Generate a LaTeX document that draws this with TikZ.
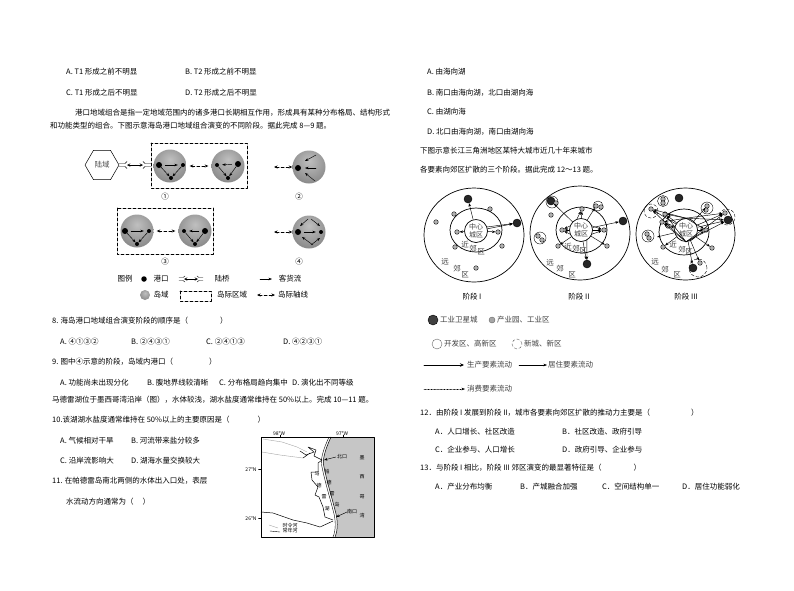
\documentclass[tikz,border=0pt]{standalone}
\usepackage{fontspec}
\setmainfont{Noto Sans CJK SC}
\usetikzlibrary{shapes.geometric,arrows.meta}
\pgfdeclareradialshading{islefill}{\pgfpoint{0bp}{10bp}}{color(0bp)=(black!25); color(25bp)=(black!42); color(50bp)=(black!62); color(70bp)=(black!75)}
\tikzset{
	txt/.style={anchor=west,inner sep=0pt,font=\fontsize{7.5}{9}\selectfont},
	mid/.style={inner sep=0pt,font=\fontsize{7.5}{9}\selectfont},
	mini/.style={inner sep=0pt,font=\fontsize{5}{6}\selectfont},
	isle/.style={circle,minimum size=33pt,inner sep=0pt,shading=islefill},
	bigport/.style={circle,fill=black,minimum size=6pt,inner sep=0pt},
	port/.style={circle,fill=black,minimum size=4pt,inner sep=0pt},
	boxdash/.style={draw,densely dashed,line width=.7pt},
	axis/.style={{Stealth[length=3.5pt,width=3pt]}-{Stealth[length=3.5pt,width=3pt]},densely dashed,line width=.6pt},
	flowline/.style={-{Stealth[length=3.5pt,width=2.6pt]},line width=.45pt},
	sat/.style={circle,fill=black!85,draw=black,minimum size=8pt,inner sep=0pt},
	park/.style={circle,fill=gray!60,draw=black,line width=.4pt,minimum size=4.6pt,inner sep=0pt},
	ring/.style={circle,draw,line width=.4pt,inner sep=0pt},
	newring/.style={circle,draw,densely dashed,line width=.4pt,inner sep=0pt},
	zone/.style={ellipse,draw,line width=.7pt,inner sep=0pt},
	core/.style={circle,draw,fill=white,line width=.7pt,minimum size=23pt,inner sep=0pt,align=center,font=\fontsize{7}{8}\selectfont,text=black!75}
}
\begin{document}
\begin{tikzpicture}[x=1pt,y=-1pt,>=stealth,line join=round,line cap=round]
	\useasboundingbox (0,0) rectangle (794,590);
	% left column
	\node[txt] (t1a) at (66,72) {A. T1 形成之前不明显};
	\node[txt] (t2a) at (185,72) {B. T2 形成之前不明显};
	\node[txt] (t1b) at (66,93) {C. T1 形成之后不明显};
	\node[txt] (t2b) at (185,93) {D. T2 形成之后不明显};
	\node[txt] (intro1) at (75,113) {港口地域组合是指一定地域范围内的诸多港口长期相互作用，形成具有某种分布格局、结构形式};
	\node[txt] (intro2) at (50,126) {和功能类型的组合。下图示意海岛港口地域组合演变的不同阶段。据此完成 8—9 题。};
	% islands
	\node[regular polygon,regular polygon sides=6,draw,minimum size=34pt,inner sep=0pt,line width=.5pt,font=\fontsize{7.5}{9}\selectfont,text=black!70] (land) at (102,165) {陆域};
	\draw[boxdash] (151,143) rectangle (247,188);
	\draw[boxdash] (117,208) rectangle (213,254);
	\node[isle] (isa) at (170,166) {};
	\node[isle] (isb) at (228,166) {};
	\node[isle] (isc) at (309,167) {};
	\node[isle] (isd) at (137,231) {};
	\node[isle] (ise) at (195,231) {};
	\node[isle] (isf) at (309,232) {};
	\foreach \n/\bx/\by/\sx/\sy/\dx/\dy in {a/159/165/183/165/171/178,b/238/164/217/165/228/178,d/125/231/149/231/137/244,e/205/231/184/231/195/244}{
		\node[bigport] (big\n) at (\bx,\by) {};
		\node[port] (sma\n) at (\sx,\sy) {};
		\node[port] (bot\n) at (\dx,\dy) {};
		\draw[flowline,shorten <=3pt,shorten >=3pt] (big\n) -- (sma\n);
		\draw[flowline] (big\n) -- (bot\n);
		\draw[flowline] (sma\n) -- (bot\n);
	}
	\node[bigport] (bigc) at (298,168) {};
	\node[bigport] (bigf) at (298,232) {};
	\node[port] (smaf) at (321,232) {};
	\coordinate (c1) at (316,155);
	\coordinate (c2) at (316,168);
	\coordinate (c3) at (315,181);
	\coordinate (c4) at (305,173);
	\coordinate (c5) at (305,161);
	\coordinate (c6) at (305,168);
	\draw[flowline] (c1) -- (c5);
	\draw[flowline] (c2) -- (c6);
	\draw[flowline] (c3) -- (c4);
	\coordinate (f1) at (308,219);
	\coordinate (f2) at (300,226);
	\coordinate (f3) at (311,219);
	\coordinate (f4) at (320,226);
	\coordinate (f5) at (313,245);
	\coordinate (f6) at (302,237);
	\coordinate (f7) at (311,245);
	\coordinate (f8) at (320,238);
	\draw[flowline] (f1) -- (f2);
	\draw[flowline] (f3) -- (f4);
	\draw[flowline] (f5) -- (f6);
	\draw[flowline] (f7) -- (f8);
	\draw[flowline,shorten <=3pt,shorten >=3pt] (bigf) -- (smaf);
	\draw[axis,shorten <=3pt,shorten >=3pt] (isa) -- (isb);
	\draw[axis,shorten <=3pt,shorten >=3pt] (isd) -- (ise);
	\coordinate (ax1) at (274,167);
	\coordinate (ax2) at (274,232);
	\draw[axis] (ax1) -- (isc);
	\draw[axis] (ax2) -- (isf);
	% land bridge
	\draw[<->,line width=.5pt] (127,165) -- (143,165);
	\draw[line width=.4pt] (119,163.5)--(125,163.5)--(127,161.5) (119,166.5)--(125,166.5)--(127,168.5) (151,163.5)--(145,163.5)--(143,161.5) (151,166.5)--(145,166.5)--(143,168.5);
	\node[mid] (no1) at (165,197) {①};
	\node[mid] (no2) at (299,197) {②};
	\node[mid] (no3) at (165,262) {③};
	\node[mid] (no4) at (299,262) {④};
	% legend
	\node[mid] (lg1) at (125,279) {图例};
	\node[circle,fill=black,minimum size=5.5pt,inner sep=0pt] (lgport) at (144,279) {};
	\node[mid] (lg2) at (161,279) {港口};
	\draw[<->,line width=.5pt] (184,279) -- (198,279);
	\draw[line width=.4pt] (179,277.5)--(183,277.5)--(185,276) (179,280.5)--(183,280.5)--(185,282) (203,277.5)--(199,277.5)--(197,276) (203,280.5)--(199,280.5)--(197,282);
	\node[mid] (lg3) at (222,279) {陆桥};
	\coordinate (lga) at (260,279);
	\coordinate (lgb) at (272,279);
	\draw[flowline] (lga) -- (lgb);
	\node[mid] (lg4) at (290,279) {客货流};
	\node[circle,minimum size=10pt,inner sep=0pt,shading=islefill] (lgisle) at (145,295) {};
	\node[mid] (lg5) at (161,295) {岛域};
	\draw[boxdash] (180,291) rectangle (211,301);
	\node[mid] (lg6) at (232,295) {岛际区域};
	\coordinate (lgc) at (257,295);
	\coordinate (lgd) at (275,295);
	\draw[axis] (lgc) -- (lgd);
	\node[mid] (lg7) at (293,295) {岛际轴线};
	% questions
	\node[txt] (q8) at (52,321) {8. 海岛港口地域组合演变阶段的顺序是（\hspace*{32pt}）};
	\node[txt] (q8a) at (60,342) {A. ④①③②};
	\node[txt] (q8b) at (131,342) {B. ②④③①};
	\node[txt] (q8c) at (206,342) {C. ②④①③};
	\node[txt] (q8d) at (283,342) {D. ④②③①};
	\node[txt] (q9) at (52,362) {9. 图中④示意的阶段，岛域内港口（\hspace*{36pt}）};
	\node[txt] (q9a) at (60,383) {A. 功能尚未出现分化};
	\node[txt] (q9b) at (147,383) {B. 腹地界线较清晰};
	\node[txt] (q9c) at (219,383) {C. 分布格局趋向集中};
	\node[txt] (q9d) at (292,383) {D. 演化出不同等级};
	\node[txt] (lake) at (52,400) {马德雷湖位于墨西哥湾沿岸（图），水体较浅，湖水盐度通常维持在 50\%以上。完成 10—11 题。};
	\node[txt] (q10) at (52,420) {10.该湖湖水盐度通常维持在 50\%以上的主要原因是（\hspace*{28pt}）};
	\node[txt] (q10a) at (60,441) {A. 气候相对干旱};
	\node[txt] (q10b) at (131,441) {B. 河流带来盐分较多};
	\node[txt] (q10c) at (60,461) {C. 沿岸流影响大};
	\node[txt] (q10d) at (131,461) {D. 湖海水量交换较大};
	\node[txt] (q11) at (52,481) {11. 在帕德雷岛南北两侧的水体出入口处，表层};
	\node[txt] (q11b) at (66,502) {水流动方向通常为（\hspace*{9pt}）};
	% map
	\fill[gray!45] (331,437) .. controls (325,450) and (322,460) .. (324,467) .. controls (327,482) and (332,498) .. (335,510) .. controls (338,520) and (338,530) .. (335,537) -- (374,537) -- (374,437) -- cycle;
	\draw[line width=.4pt] (329,437) .. controls (323,450) and (320,460) .. (322,467) .. controls (325,482) and (330,498) .. (333,510) .. controls (336,520) and (336,530) .. (333,537);
	\draw[line width=.5pt] (331,437) .. controls (325,450) and (322,460) .. (324,467) .. controls (327,482) and (332,498) .. (335,510) .. controls (338,520) and (338,530) .. (335,537);
	\draw[gray!70,line width=.4pt] (263,439)--(282,442)--(297,447)--(307,452) (262,452)--(280,455)--(303,458);
	\draw[line width=.5pt] (322,460)--(318,463)--(318,472)--(311,472)--(312,480)--(318,487)--(315,495)--(319,497)--(323,507)--(325,517)--(333,520);
	\draw[line width=.5pt] (300,451)--(306,455)--(314,452)--(308,447)--(316,450)--(314,456)--(322,460) (303,458)--(310,453);
	\draw[line width=.5pt] (261,512)--(273,513)--(293,520)--(307,523)--(320,527)--(333,521);
	\draw[gray!70,line width=.4pt] (269,525)--(278,528);
	\draw[line width=.4pt] (270,531)--(280,532);
	\draw[line width=.4pt] (261,437) rectangle (374,537);
	\draw[line width=.4pt] (261,469)--(258.5,469) (261,518)--(258.5,518) (280,437)--(280,435) (343,437)--(343,435);
	\coordinate (north) at (336,457);
	\coordinate (south) at (347,512);
	\draw[flowline] (north) -- (324,460);
	\draw[flowline] (south) -- (336,517);
	\node[mini] (lon1) at (279,434) {98°W};
	\node[mini] (lon2) at (342,434) {97°W};
	\node[mini] (lat1) at (251,470) {27°N};
	\node[mini] (lat2) at (251,519) {26°N};
	\node[mini] (nk) at (342,457) {北口};
	\node[mini] (sk) at (352,512) {南口};
	\foreach \n/\x/\y/\s in {a/362/458/墨,b/362/477/西,c/362/497/哥,d/362/516/湾,e/327/472/帕,f/329/483/德,g/332/494/雷,h/337/505/岛,i/317/474/马,j/319/486/德,k/324/497/雷,l/327/509/湖}
		\node[mini] (m\n) at (\x,\y) {\s};
	\node[mini] (rv1) at (290,526) {时令河};
	\node[mini] (rv2) at (290,531) {常年河};
	% right column
	\node[txt] (ra) at (427,72) {A. 由海向湖};
	\node[txt] (rb) at (427,93) {B. 南口由海向湖，北口由湖向海};
	\node[txt] (rc) at (427,112) {C. 由湖向海};
	\node[txt] (rd) at (427,132) {D. 北口由海向湖，南口由湖向海};
	\node[txt] (city1) at (420,151) {下图示意长江三角洲地区某特大城市近几十年来城市};
	\node[txt] (city2) at (420,170) {各要素向郊区扩散的三个阶段。据此完成 12～13 题。};
	% stage I
	\node[zone,minimum width=100pt,minimum height=94pt] (oa) at (474,235) {};
	\node[zone,minimum width=52pt,minimum height=44pt] (ma) at (476,230) {};
	\node[core] (ca) at (476,231) {中心\\城区};
	\foreach \n/\x/\y in {1/468/199,2/517/223}
		\node[sat] (sa\n) at (\x,\y) {};
	\foreach \n/\x/\y in {1/454/214,2/490/209,3/436/222,4/457/232,5/498/232,6/455/247,7/502/246,8/476/268}
		\node[park] (pa\n) at (\x,\y) {};
	\foreach \a in {sa1,sa2,pa4,pa5}
		\draw[flowline] (ca) -- (\a);
	\draw[flowline] (ca.20) -- (sa2);
	\foreach \n/\x/\y/\s in {1/465/245/近,2/473/249/郊,3/481/252/区,4/445/262/远,5/457/269/郊,6/465/275/区}
		\node[mid,text=black!75] (fa\n) at (\x,\y) {\s};
	\node[mid] (sta) at (472,297) {阶段 I};
	% stage II
	\node[zone,minimum width=100pt,minimum height=94pt] (ob) at (580,233) {};
	\node[zone,minimum width=51pt,minimum height=46pt] (mb) at (581.5,230) {};
	\node[core] (cb) at (581,230) {中心\\城区};
	\node[ring,minimum size=12pt] (rb1) at (552,202) {};
	\node[ring,minimum size=10pt] (rb2) at (598,206) {};
	\node[ring,minimum size=12pt] (rb3) at (540,238) {};
	\foreach \n/\x/\y in {1/551/201,2/623/221,3/587/264}
		\node[sat] (sb\n) at (\x,\y) {};
	\foreach \n/\x/\y in {1/556/203,2/582/209,3/551/215,4/596/206,5/601/207,6/538/236,7/542/240,8/562/230,9/604/230,10/558/246,11/607/246}
		\node[park] (pb\n) at (\x,\y) {};
	\foreach \a in {sb1,sb2,sb3,pb2,pb4,pb8,pb9,pb10,pb11}
		\draw[flowline] (cb) -- (\a);
	\draw[flowline] (cb.-60) -- (sb3);
	\draw[flowline] (cb.110) -- (pb2);
	\draw[flowline] (cb.160) -- (pb8);
	\draw[flowline] (cb.200) -- (pb8);
	\draw[flowline] (cb.20) -- (pb9);
	\draw[flowline] (cb.-20) -- (pb9);
	\foreach \n/\x/\y/\s in {1/568/247/近,2/576/249/郊,3/583/251/区,4/550/263/远,5/560/269/郊,6/572/275/区}
		\node[mid,text=black!75] (fb\n) at (\x,\y) {\s};
	\node[mid] (stb) at (579,297) {阶段 II};
	% stage III
	\node[zone,minimum width=99pt,minimum height=92pt] (oc) at (685.5,234) {};
	\node[zone,minimum width=50pt,minimum height=46pt] (mc) at (684,232) {};
	\node[core] (cc) at (686,230) {中心\\城区};
	\node[ring,minimum size=11pt] (rc1) at (663,201) {};
	\node[ring,minimum size=12pt] (rc2) at (707,208) {};
	\node[ring,minimum size=12pt] (rc3) at (648,236) {};
	\node[newring,minimum size=14pt] (rc4) at (651,211) {};
	\node[newring,minimum size=16pt] (rc5) at (727,217) {};
	\node[newring,minimum size=18pt] (rc6) at (698,268) {};
	\foreach \n/\x/\y in {1/679/198,2/728/220,3/693/268}
		\node[sat] (sc\n) at (\x,\y) {};
	\foreach \n/\x/\y in {1/663/199,2/663/203,3/707/206,4/706/210,5/651/209,6/725/213,7/647/234,8/649/238,9/665/214,10/662/222,11/668/226,12/706/230,13/663/247,14/712/248,15/700/263}
		\node[park] (pc\n) at (\x,\y) {};
	\foreach \a in {sc2,sc3,pc3,pc5,pc6,pc9,pc10,pc11,pc12,pc13,pc14,pc15}
		\draw[flowline] (cc) -- (\a);
	\foreach \a in {pc5,pc9,pc10,pc6,sc2,pc12}{
		\draw[flowline] (cc.north) -- (\a);
		\draw[flowline] (cc.south) -- (\a);
	}
	\coordinate (lf) at (657,237);
	\draw[flowline] (cc) -- (lf);
	\foreach \n/\x/\y/\s in {1/673/245/近,2/682/250/郊,3/689/252/区,4/655/262/远,5/665/270/郊,6/677/275/区}
		\node[mid,text=black!75] (fc\n) at (\x,\y) {\s};
	\node[mid] (stc) at (686,297) {阶段 III};
	% stage legend
	\node[circle,fill=black!75,draw=black,minimum size=10pt,inner sep=0pt] (lsat) at (433,320) {};
	\node[txt,text=black!75] (lsatt) at (440,320) {工业卫星城};
	\node[circle,fill=gray!70,draw=black!60,minimum size=6pt,inner sep=0pt] (lpark) at (492,320) {};
	\node[txt,text=black!75] (lparkt) at (497,320) {产业园、工业区};
	\node[ring,minimum size=10pt,draw=black!60] (lring) at (437,344) {};
	\node[txt,text=black!75] (lringt) at (444,344) {开发区、高新区};
	\node[newring,minimum size=10pt,draw=black!60] (lnew) at (517,344) {};
	\node[txt,text=black!75] (lnewt) at (524,344) {新城、新区};
	\coordinate (la1) at (424,365);
	\coordinate (la2) at (464,365);
	\coordinate (la3) at (519,365);
	\coordinate (la4) at (547,365);
	\coordinate (la5) at (424,389);
	\coordinate (la6) at (465,389);
	\draw[-{Stealth[length=4pt,width=3.5pt]},line width=.9pt] (la1) -- (la2);
	\draw[flowline] (la3) -- (la4);
	\draw[flowline,densely dotted] (la5) -- (la6);
	\node[txt,text=black!75] (lat) at (467,365) {生产要素流动};
	\node[txt,text=black!75] (lbt) at (548,365) {居住要素流动};
	\node[txt,text=black!75] (lct) at (467,389) {消费要素流动};
	% questions 12 13
	\node[txt] (q12) at (420,413) {12．由阶段 I 发展到阶段 II，城市各要素向郊区扩散的推动力主要是（\hspace*{41pt}）};
	\node[txt] (q12a) at (435,432) {A．人口增长、社区改造};
	\node[txt] (q12b) at (562,432) {B．社区改造、政府引导};
	\node[txt] (q12c) at (435,450) {C．企业参与、人口增长};
	\node[txt] (q12d) at (562,450) {D．政府引导、企业参与};
	\node[txt] (q13) at (420,468) {13．与阶段 I 相比，阶段 III 郊区演变的最显著特征是（\hspace*{32pt}）};
	\node[txt] (q13a) at (435,487) {A．产业分布均衡};
	\node[txt] (q13b) at (520,487) {B．产城融合加强};
	\node[txt] (q13c) at (602,487) {C．空间结构单一};
	\node[txt] (q13d) at (682,487) {D．居住功能弱化};
\end{tikzpicture}
\end{document}
